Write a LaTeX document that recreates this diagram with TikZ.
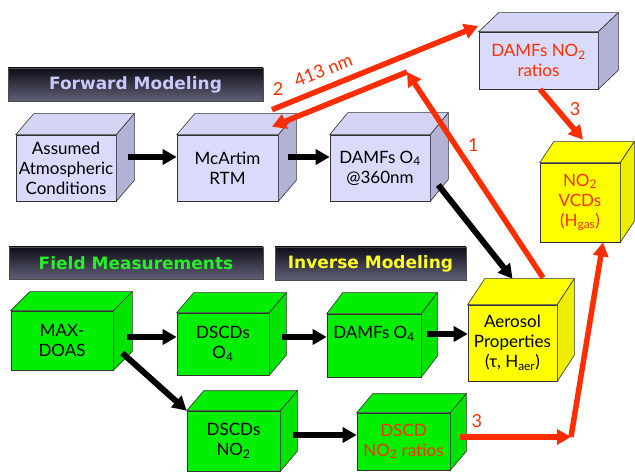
\documentclass[tikz,border=0pt]{standalone}
\usepackage{fontspec}
\setmainfont{Lato}
\newfontfamily\headfont{DejaVu Sans}
\usetikzlibrary{arrows.meta}

\definecolor{lavfront}{RGB}{218,218,250}
\definecolor{lavtop}{RGB}{212,212,244}
\definecolor{lavside}{RGB}{178,178,212}
\definecolor{grn}{RGB}{0,238,0}
\definecolor{grnside}{RGB}{0,226,0}
\definecolor{yel}{RGB}{255,255,0}
\definecolor{yelside}{RGB}{238,238,0}
\definecolor{redarr}{RGB}{255,45,0}
\definecolor{headtop}{RGB}{14,14,24}
\definecolor{headbot}{RGB}{96,96,118}
\definecolor{fwdtxt}{RGB}{200,200,250}
\definecolor{fldtxt}{RGB}{40,238,40}
\definecolor{invtxt}{RGB}{255,255,40}

\begin{document}
\begin{tikzpicture}[
    x=1pt, y=-1pt,
    every node/.style={inner sep=0pt},
    cube/.style={draw=black!80, line width=0.6pt, align=center,
      font=\fontsize{17}{20}\selectfont},
    header/.style={draw=black!70, line width=0.8pt, top color=headtop,
      bottom color=headbot, minimum height=33pt,
      font=\headfont\bfseries\fontsize{17}{20}\selectfont},
    blk/.style={line width=6pt, -{Triangle[length=14pt,width=15pt]}},
    rdarrow/.style={draw=redarr, line width=5.5pt,
      -{Triangle[length=14pt,width=15pt]}},
    lbl/.style={text=redarr, font=\fontsize{18}{20}\selectfont}
  ]
  \useasboundingbox (0,0) rectangle (635,473);

  % headers
  \node (fwdhead) [header, minimum width=255pt, text=fwdtxt] at (135.5,84.5) {Forward Modeling};
  \node (fieldhead) [header, minimum width=254pt, minimum height=32pt, text=fldtxt] at (136,263) {Field Measurements};
  \node (invhead) [header, minimum width=191pt, text=invtxt] at (370.5,263.5) {Inverse Modeling};

  % front faces
  \node (atm) [cube, fill=lavfront, minimum width=100pt, minimum height=66pt] at (66,168) {Assumed\\Atmospheric\\Conditions};
  \node (rtm) [cube, fill=lavfront, minimum width=101pt, minimum height=66pt] at (227.5,168) {McArtim\\RTM};
  \node (damfo) [cube, fill=lavfront, minimum width=100pt, minimum height=66pt] at (380,168) {DAMFs O\textsubscript{4}\\@360nm};
  \node (damfno) [cube, fill=lavfront, text=redarr, minimum width=119pt, minimum height=57pt] at (538.5,60.5) {DAMFs NO\textsubscript{2}\\ratios};
  \node (vcd) [cube, fill=yel, text=redarr, minimum width=80pt, minimum height=79pt] at (580,202.5) {NO\textsubscript{2}\\VCDs\\(H\textsubscript{gas})};
  \node (maxdoas) [cube, fill=grn, minimum width=102pt, minimum height=59pt] at (62,340.5) {MAX-\\DOAS};
  \node (dscdo) [cube, fill=grn, minimum width=92pt, minimum height=62pt] at (223,344) {DSCDs\\O\textsubscript{4}};
  \node (damfog) [cube, fill=grn, minimum width=94pt, minimum height=63pt] at (374,345.5) {DAMFs O\textsubscript{4}\\[6pt]\mbox{}};
  \node (aer) [cube, fill=yel, minimum width=89pt, minimum height=76pt] at (512.5,343) {Aerosol\\Properties\\(τ, H\textsubscript{aer})};
  \node (dscdno) [cube, fill=grn, minimum width=93pt, minimum height=60pt] at (233.5,441) {DSCDs\\NO\textsubscript{2}};
  \node (ratio) [cube, fill=grn, text=redarr, minimum width=93pt, minimum height=57pt] at (403.5,441.5) {DSCD\\NO\textsubscript{2} ratios};

  % top and side faces
  \foreach \n/\dx/\dy/\tp/\sd in {atm/18/-21/lavtop/lavside, rtm/18/-21/lavtop/lavside,
      damfo/18/-22/lavtop/lavside, damfno/20/-19/lavtop/lavside, vcd/14/-21/yel/yelside,
      maxdoas/19/-19/grn/grnside, dscdo/17/-20/grn/grnside, damfog/16/-21/grn/grnside,
      aer/17/-26/yel/yelside, dscdno/17/-20/grn/grnside, ratio/16/-19/grn/grnside}
  {
    \filldraw[fill=\tp, draw=black!80, line width=0.6pt] (\n.north west) -- ([shift={(\dx,\dy)}]\n.north west)
      -- ([shift={(\dx,\dy)}]\n.north east) -- (\n.north east) -- cycle;
    \filldraw[fill=\sd, draw=black!80, line width=0.6pt] (\n.north east) -- ([shift={(\dx,\dy)}]\n.north east)
      -- ([shift={(\dx,\dy)}]\n.south east) -- (\n.south east) -- cycle;
  }

  % black arrows
  \coordinate (b1) at ([xshift=12pt,yshift=11pt]atm.east);
  \draw[blk] (b1) -- (b1 -| rtm.west);
  \coordinate (b2) at ([xshift=10pt,yshift=11pt]rtm.east);
  \draw[blk] (b2) -- (b2 -| damfo.west);
  \draw[blk] ([xshift=8pt,yshift=-17pt]damfo.east) -- ([yshift=26pt]aer.north);
  \coordinate (b3) at ([xshift=14pt,yshift=3.5pt]maxdoas.east);
  \draw[blk] (b3) -- (b3 -| dscdo.west);
  \coordinate (b4) at ([xshift=13pt,yshift=7pt]dscdo.east);
  \draw[blk] (b4) -- (b4 -| damfog.west);
  \coordinate (b5) at ([xshift=6pt,yshift=11.5pt]damfog.east);
  \draw[blk] (b5) -- (b5 -| aer.west);
  \draw[blk] ([xshift=9pt,yshift=-12.5pt]maxdoas.east) -- (dscdno.north west);
  \coordinate (b6) at ([xshift=13pt,yshift=6pt]dscdno.east);
  \draw[blk] (b6) -- (b6 -| ratio.west);

  % red arrows
  \coordinate (r2) at ([xshift=44.5pt,yshift=25pt]rtm.north);
  \draw[rdarrow] (r2) -- node[lbl, pos=0.03, above=9pt] {2}
    node[lbl, pos=0.28, sloped, above=8pt] {413 nm} ([xshift=-0.5pt,yshift=34.5pt]damfno.west);
  \coordinate (apex) at (407,72);
  \draw[rdarrow] ([xshift=30.5pt,yshift=27pt]aer.north) -- node[lbl, pos=0.645, right=10pt] {1} (apex);
  \draw[rdarrow] (apex) -- ([xshift=44.5pt,yshift=8pt]rtm.north);
  \draw[rdarrow] ([xshift=1.5pt]damfno.south) -- node[lbl, pos=0.4, right=10pt] {3} ([xshift=3pt,yshift=23pt]vcd.north);
  \coordinate (r3) at ([xshift=10pt,yshift=4.5pt]ratio.east);
  \coordinate (bend) at (571,437);
  \draw[rdarrow] (r3) -- node[lbl, pos=0.15, above=7pt] {3} (bend);
  \draw[rdarrow] (bend) -- ([xshift=23pt]vcd.south);
\end{tikzpicture}
\end{document}
